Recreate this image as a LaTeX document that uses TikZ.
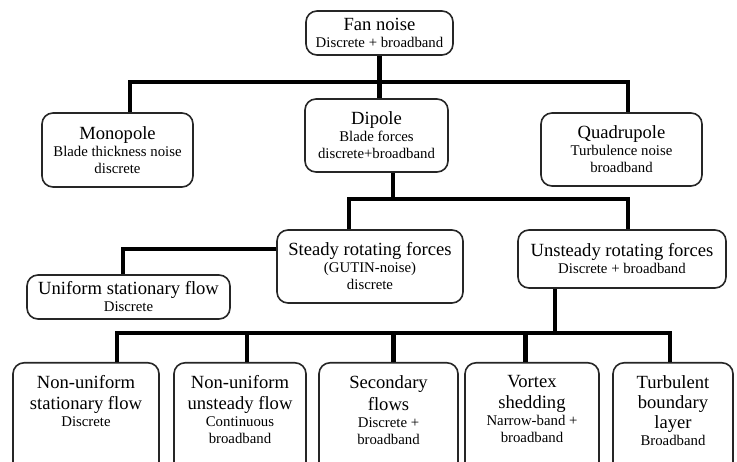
\documentclass[tikz,border=0pt]{standalone}
\usepackage{fontspec}
\setmainfont{Liberation Serif}
\newcommand{\ttl}[1]{{\fontsize{18.6}{21}\selectfont #1}}
\newcommand{\tail}{\rule[-45pt]{0pt}{45pt}}
\tikzset{
    box/.style={draw=black!85, line width=1.6pt, rounded corners=11pt, fill=white,
        align=center, inner sep=0pt, font=\fontsize{14.8}{17}\selectfont},
    low/.style={box, anchor=north, inner ysep=13pt},
    link/.style={line width=4.5pt}
}

\begin{document}
\begin{tikzpicture}[x=1pt,y=-1pt]
    \useasboundingbox (0,0) rectangle (737,462);
    \clip (0,0) rectangle (737,462);

    \node[box, minimum width=147, minimum height=44] (fan) at (379.5,33) {\ttl{Fan noise}\\Discrete + broadband};

    \node[box, minimum width=151, minimum height=74] (mono) at (117.5,150) {\ttl{Monopole}\\Blade thickness noise\\discrete};
    \node[box, minimum width=143, minimum height=73] (dip) at (376.5,135.5) {\ttl{Dipole}\\Blade forces\\discrete+broadband};
    \node[box, minimum width=161, minimum height=73] (quad) at (621.5,149.5) {\ttl{Quadrupole}\\Turbulence noise\\broadband};

    \node[box, minimum width=186, minimum height=73] (steady) at (370,266.5) {\ttl{Steady rotating forces}\\(GUTIN-noise)\\discrete};
    \node[box, minimum width=208, minimum height=58] (unst) at (622,259) {\ttl{Unsteady rotating forces}\\Discrete + broadband};
    \node[box, minimum width=203, minimum height=44] (unif) at (128.5,297) {\ttl{Uniform stationary flow}\\Discrete};

    % bottom row, cut off at the lower edge
    \node[low, minimum width=146] (nsf) at (86,362) {\ttl{Non-uniform}\\[4pt]\ttl{stationary flow}\\Discrete\tail};
    \node[low, minimum width=132] (nuf) at (240,362) {\ttl{Non-uniform}\\[4pt]\ttl{unsteady flow}\\Continuous\\broadband\tail};
    \node[low, minimum width=139] (sec) at (388.5,362) {\ttl{Secondary}\\[4pt]\ttl{flows}\\Discrete +\\broadband\tail};
    \node[low, minimum width=134] (vor) at (532,362) {\ttl{Vortex}\\[4pt]\ttl{shedding}\\Narrow-band +\\broadband\tail};
    \node[low, minimum width=120] (tbl) at (673,362) {\ttl{Turbulent}\\[3pt]\ttl{boundary}\\[3pt]\ttl{layer}\\Broadband\tail};

    \draw[link] (fan.south) -- (fan.south |- dip.north);
    \draw[link] ([xshift=12.5pt]mono.north) -- ++(0,-30) -| ([xshift=6.5pt]quad.north);

    \draw[link] ([xshift=16.5pt]dip.south) -- ++(0,28);
    \draw[link] ([xshift=-21pt]steady.north) -- ++(0,-30) -| ([xshift=6pt]unst.north);
    \draw[link] ([yshift=17.5pt]steady.west) -| ([xshift=-5.5pt]unif.north);

    \draw[link] ([xshift=-67pt]unst.south) -- ++(0,45);
    \draw[link] ([xshift=31pt]nsf.north) -- ++(0,-29) -| ([xshift=-3pt]tbl.north);
    \foreach \n/\dx in {nuf/7, sec/5, vor/-6.5}
        \draw[link] ([xshift=\dx pt]\n.north) -- ++(0,-29);

\end{tikzpicture}
\end{document}
